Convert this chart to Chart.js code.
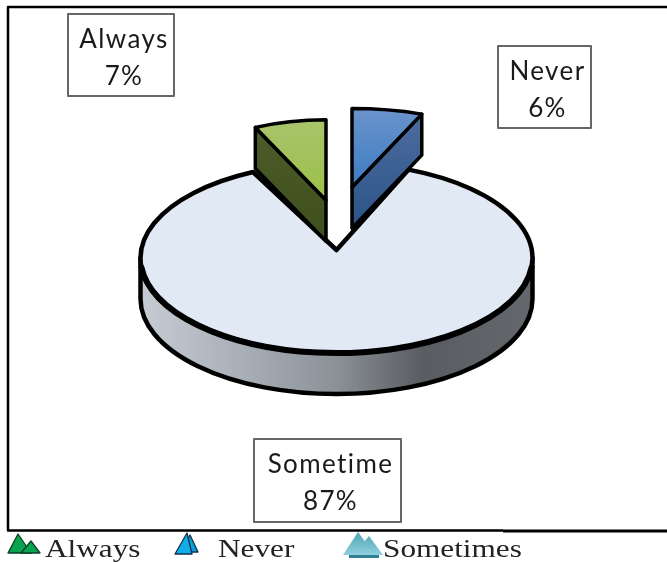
<!DOCTYPE html>
<html>
<head>
<meta charset="utf-8">
<title>Pie</title>
<style>
  html, body { margin: 0; padding: 0; background: #fff; }
  canvas { display: block; }
</style>
<script src="https://cdn.jsdelivr.net/npm/chart.js@4"></script>
</head>
<body>
<canvas id="pie" width="667" height="562"></canvas>
<script>
const categories = ['Never', 'Sometime', 'Always'];
const values = [6, 87, 7];
const boxLabels = ['Never', 'Sometime', 'Always'];
const legendLabels = ['Always', 'Never', 'Sometimes'];

const TILT = 0.485;
const DEPTH = 41;
const LABEL_FONT = '26px Lato';
const LEGEND_FONT = '25px "Liberation Serif"';

// per slice look, same order as categories
const pulled = [
    { dx: 15.5, dy: -146, radius: 162, stretch: 1.17, wall: 'end', face: ['#6a93cb', '#3d7cc2'], side: ['#4e6d9e', '#2c5488'] },
    null,
    { dx: -10.5, dy: -119, radius: 166, stretch: 1, wall: 'start', face: ['#a9c46c', '#9bc047'], side: ['#4c5c2a', '#3f4f1c'] },
];
const boxes = [
    { x: 498, y: 46, w: 93, h: 82 },
    { x: 254, y: 439, w: 147, h: 83 },
    { x: 68, y: 14, w: 106, h: 82 },
];

function tracePoint(x, y, r, angle, stretch) {
    return { x: x + Math.cos(angle) * r * stretch, y: y + Math.sin(angle) * r * TILT };
}

function drawMain(ctx, arc) {
    const { x, y, outerRadius: r, startAngle, endAngle } = arc.getProps(['x', 'y', 'outerRadius', 'startAngle', 'endAngle']);
    const ry = r * TILT;

    // rim of the disc
    const rim = ctx.createLinearGradient(x - r, 0, x + r, 0);
    rim.addColorStop(0, '#c6ccd3');
    rim.addColorStop(0.25, '#aab0b8');
    rim.addColorStop(0.5, '#8b9197');
    rim.addColorStop(0.72, '#595c61');
    rim.addColorStop(1, '#64686d');
    ctx.beginPath();
    ctx.ellipse(x, y, r, ry, 0, 0, Math.PI);
    ctx.lineTo(x - r, y + DEPTH);
    ctx.ellipse(x, y + DEPTH, r, ry, 0, Math.PI, 0, true);
    ctx.closePath();
    ctx.fillStyle = rim;
    ctx.fill();
    ctx.lineWidth = 4.5;
    ctx.strokeStyle = '#000';
    ctx.lineJoin = 'round';
    ctx.stroke();

    // top face, the notch tip sits a bit above the true centre
    ctx.beginPath();
    ctx.moveTo(x, y - 8);
    ctx.ellipse(x, y, r, ry, 0, startAngle, endAngle);
    ctx.closePath();
    ctx.fillStyle = '#e0e9f4';
    ctx.fill();
    ctx.lineWidth = 4.5;
    ctx.stroke();

    // front edge of the face is drawn heavier
    ctx.beginPath();
    ctx.ellipse(x, y, r, ry, 0, 0.1, Math.PI - 0.1);
    ctx.lineWidth = 6;
    ctx.lineCap = 'round';
    ctx.stroke();
}

function drawPulled(ctx, arc, look) {
    const { x, y, startAngle, endAngle } = arc.getProps(['x', 'y', 'startAngle', 'endAngle']);
    const cx = x + look.dx;
    const cy = y + look.dy * TILT;
    const r = look.radius;
    const edge = tracePoint(cx, cy, r, look.wall === 'end' ? endAngle : startAngle, look.stretch);

    ctx.lineWidth = 3.5;
    ctx.strokeStyle = '#000';
    ctx.lineJoin = 'round';

    const side = ctx.createLinearGradient(0, cy - r * TILT, 0, cy + DEPTH);
    side.addColorStop(0, look.side[0]);
    side.addColorStop(1, look.side[1]);
    ctx.beginPath();
    ctx.moveTo(cx, cy);
    ctx.lineTo(edge.x, edge.y);
    ctx.lineTo(edge.x, edge.y + DEPTH);
    ctx.lineTo(cx, cy + DEPTH);
    ctx.closePath();
    ctx.fillStyle = side;
    ctx.fill();
    ctx.stroke();

    const face = ctx.createLinearGradient(0, cy - r * TILT, 0, cy);
    face.addColorStop(0, look.face[0]);
    face.addColorStop(1, look.face[1]);
    ctx.beginPath();
    ctx.moveTo(cx, cy);
    ctx.ellipse(cx, cy, r * look.stretch, r * TILT, 0, startAngle, endAngle);
    ctx.closePath();
    ctx.fillStyle = face;
    ctx.fill();
    ctx.stroke();
}

function triangle(ctx, left, right, peakX, peakY, base, fill, line) {
    ctx.beginPath();
    ctx.moveTo(left, base);
    ctx.lineTo(peakX, peakY);
    ctx.lineTo(right, base);
    ctx.closePath();
    ctx.fillStyle = fill;
    ctx.fill();
    if (line) {
        ctx.lineWidth = 1.3;
        ctx.strokeStyle = line;
        ctx.stroke();
    }
}

function drawLegendIcons(ctx) {
    triangle(ctx, 8, 31, 18, 534, 553, '#0aa34f', '#0b3f24');
    triangle(ctx, 21, 40, 31, 541, 553, '#0aa34f', '#0b3f24');

    triangle(ctx, 180, 198, 190, 535, 552, '#0d9ed6', '#14304c');
    triangle(ctx, 175, 192, 187, 533, 554, '#10aee8', '#14304c');

    const teal = ctx.createLinearGradient(0, 532, 0, 555);
    teal.addColorStop(0, '#4ea3b6');
    teal.addColorStop(1, '#8fd0dc');
    triangle(ctx, 343, 375, 358, 532, 555, teal);
    triangle(ctx, 353, 383, 369, 536, 555, teal);
    ctx.fillStyle = '#2f7f92';
    ctx.fillRect(349, 555, 30, 3);
}

const framePlugin = {
    id: 'frame',
    beforeDatasetsDraw(chart) {
        const ctx = chart.ctx;
        const arcs = chart.getDatasetMeta(0).data;
        ctx.save();

        arcs.forEach((arc, i) => { if (!pulled[i]) drawMain(ctx, arc); });
        arcs.forEach((arc, i) => { if (pulled[i]) drawPulled(ctx, arc, pulled[i]); });

        // outer frame, it has no right side
        ctx.strokeStyle = '#000';
        ctx.lineWidth = 2.5;
        ctx.lineCap = 'butt';
        ctx.beginPath();
        ctx.moveTo(667, 7);
        ctx.lineTo(8, 7);
        ctx.lineTo(8, 530.5);
        ctx.lineTo(503, 530.5);
        ctx.stroke();
        ctx.lineWidth = 3;
        ctx.beginPath();
        ctx.moveTo(503, 531);
        ctx.lineTo(667, 531);
        ctx.stroke();

        // value boxes
        ctx.textAlign = 'center';
        ctx.textBaseline = 'alphabetic';
        ctx.font = LABEL_FONT;
        ctx.letterSpacing = '1.4px';
        boxes.forEach((b, i) => {
            ctx.fillStyle = '#fff';
            ctx.fillRect(b.x, b.y, b.w, b.h);
            ctx.strokeStyle = '#666';
            ctx.lineWidth = 2;
            ctx.strokeRect(b.x, b.y, b.w, b.h);
            ctx.fillStyle = '#1a1a1a';
            ctx.fillText(boxLabels[i], b.x + b.w / 2 + 3, b.y + 34);
            ctx.fillText(values[i] + '%', b.x + b.w / 2 + 3, b.y + 70.5);
        });
        ctx.letterSpacing = '0px';

        // legend row, the text is wider than the plain font
        drawLegendIcons(ctx);
        ctx.textAlign = 'left';
        ctx.font = LEGEND_FONT;
        ctx.fillStyle = '#222';
        [[legendLabels[0], 45], [legendLabels[1], 218], [legendLabels[2], 383]].forEach(([text, x]) => {
            ctx.save();
            ctx.translate(x, 557);
            ctx.scale(1.25, 1);
            ctx.fillText(text, 0, 0);
            ctx.restore();
        });

        ctx.restore();
        return false;
    },
};

new Chart(document.getElementById('pie'), {
    type: 'pie',
    data: {
        labels: categories,
        datasets: [{
            data: values,
            backgroundColor: ['#3d7cc2', '#e0e9f4', '#9bc047'],
            borderWidth: 0,
        }],
    },
    options: {
        responsive: false,
        animation: false,
        layout: { padding: { left: 140.5, right: 134.5, top: 62, bottom: 108 } },
        plugins: {
            legend: { display: false },
            tooltip: { enabled: false },
        },
    },
    plugins: [framePlugin],
});
</script>
</body>
</html>
